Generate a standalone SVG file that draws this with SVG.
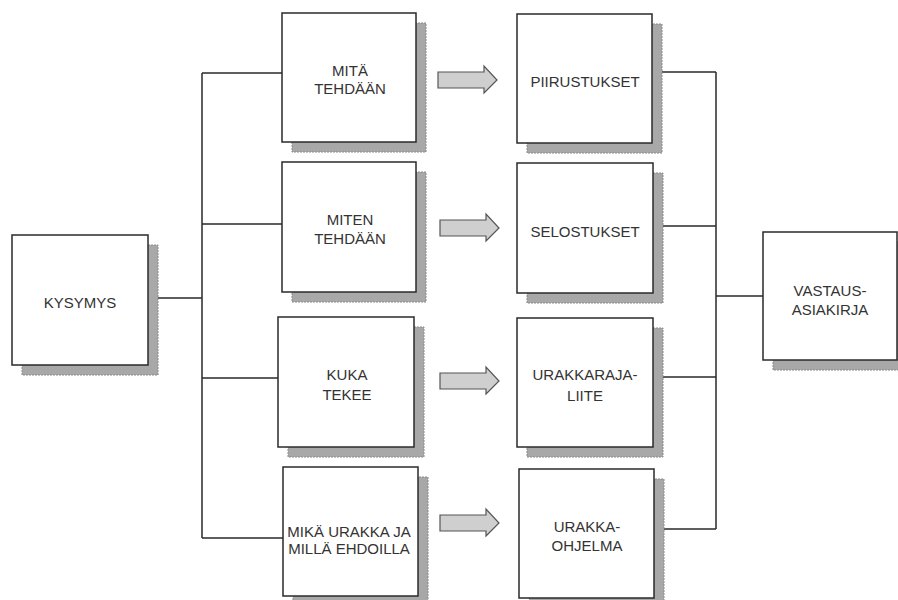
<svg xmlns="http://www.w3.org/2000/svg" width="898" height="600" viewBox="0 0 898 600">
<defs>
<style>
.box{fill:#fff;stroke:#2a2a2a;stroke-width:1.5}
.sh{fill:#a8a8a8;stroke:#8a8a8a;stroke-width:1;stroke-dasharray:2 1}
.t{font-family:"Liberation Sans",Arial,sans-serif;font-size:15px;fill:#333;text-anchor:middle}
.ln{fill:none;stroke:#2a2a2a;stroke-width:1.5}
.ar{fill:#cfcfcf;stroke:#555;stroke-width:1.2}
</style>
</defs>
<rect width="898" height="600" fill="#fff"/>
<g id="connectors">
<path class="ln" d="M148 298H202M202 73V538M202 73H282M202 224H282M202 378H278M202 538H283"/>
<path class="ln" d="M652 72H716M653 226H716M653 377H716M654 529H716M716 72V529M716 296H763"/>
<polygon class="ar" points="438,72 484,72 484,66 497,80 484,93 484,88 438,88"/>
<polygon class="ar" points="440,220 486,220 486,214 499,228 486,241 486,236 440,236"/>
<polygon class="ar" points="440,373 486,373 486,367 499,381 486,394 486,389 440,389"/>
<polygon class="ar" points="440,515 486,515 486,509 499,523 486,536 486,531 440,531"/>
</g>
<g id="kysymys"><rect class="sh" x="22" y="245" width="136" height="130"/><rect class="box" x="12" y="235" width="136" height="130"/><text class="t" x="80" y="308">KYSYMYS</text></g>
<g id="mita"><rect class="sh" x="292" y="23" width="134" height="129"/><rect class="box" x="282" y="13" width="134" height="129"/><text class="t" x="350" y="76">MITÄ</text><text class="t" x="350" y="94">TEHDÄÄN</text></g>
<g id="miten"><rect class="sh" x="292" y="172" width="134" height="130"/><rect class="box" x="282" y="162" width="134" height="130"/><text class="t" x="350" y="225">MITEN</text><text class="t" x="350" y="244">TEHDÄÄN</text></g>
<g id="kuka"><rect class="sh" x="288" y="327" width="136" height="130"/><rect class="box" x="278" y="317" width="136" height="130"/><text class="t" x="347" y="380">KUKA</text><text class="t" x="347" y="400">TEKEE</text></g>
<g id="mika"><rect class="sh" x="293" y="477" width="135" height="129"/><rect class="box" x="283" y="467" width="135" height="129"/><text class="t" x="349" y="537">MIKÄ URAKKA JA</text><text class="t" x="349" y="554">MILLÄ EHDOILLA</text></g>
<g id="piirustukset"><rect class="sh" x="527" y="24" width="135" height="129"/><rect class="box" x="517" y="14" width="135" height="129"/><text class="t" x="585" y="87">PIIRUSTUKSET</text></g>
<g id="selostukset"><rect class="sh" x="527" y="173" width="136" height="130"/><rect class="box" x="517" y="163" width="136" height="130"/><text class="t" x="585" y="237">SELOSTUKSET</text></g>
<g id="urakkarajaliite"><rect class="sh" x="527" y="328" width="136" height="129"/><rect class="box" x="517" y="318" width="136" height="129"/><text class="t" x="585" y="380">URAKKARAJA-</text><text class="t" x="585" y="401">LIITE</text></g>
<g id="urakkaohjelma"><rect class="sh" x="529" y="479" width="135" height="129"/><rect class="box" x="519" y="469" width="135" height="129"/><text class="t" x="587" y="532">URAKKA-</text><text class="t" x="587" y="551">OHJELMA</text></g>
<g id="vastausasiakirja"><rect class="sh" x="773" y="242" width="134" height="128"/><rect class="box" x="763" y="232" width="134" height="128"/><text class="t" x="830" y="296">VASTAUS-</text><text class="t" x="830" y="315">ASIAKIRJA</text></g>
</svg>
